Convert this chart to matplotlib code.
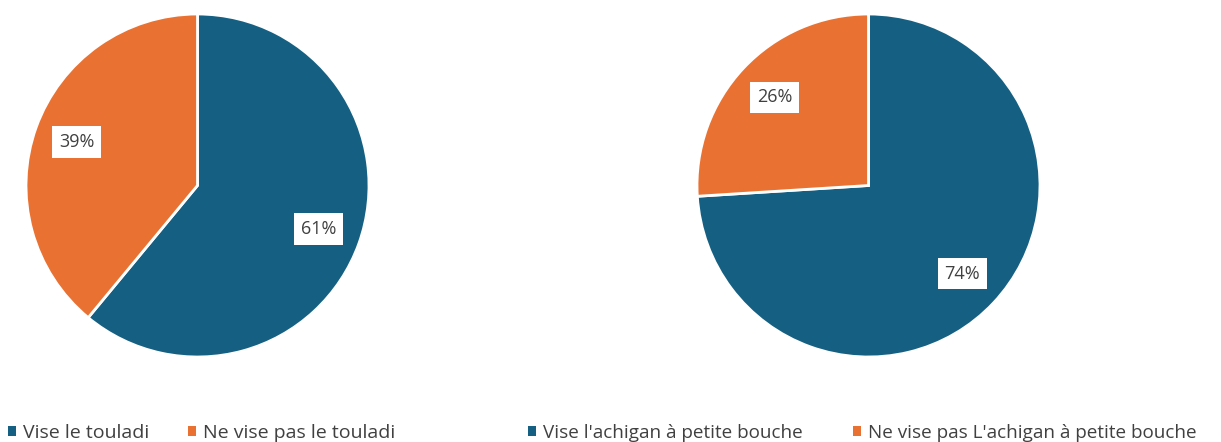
import matplotlib
matplotlib.use("Agg")
import matplotlib.pyplot as plt
from matplotlib.patches import Patch

plt.rcParams['font.family'] = ['Open Sans', 'DejaVu Sans']

# Données
labels_gauche = ["Vise le touladi", "Ne vise pas le touladi"]
valeurs_gauche = [61, 39]
labels_droite = ["Vise l'achigan à petite bouche", "Ne vise pas L'achigan à petite bouche"]
valeurs_droite = [74, 26]
couleurs = ["#156082", "#E97132"]

fig = plt.figure(figsize=(12.21, 4.42), dpi=100)

def camembert(ax, valeurs):
    ax.pie(valeurs, colors=couleurs, startangle=90, counterclock=False,
           autopct='%1.0f%%', pctdistance=0.75,
           wedgeprops=dict(edgecolor='white', linewidth=2),
           textprops=dict(color='#404040', fontsize=13,
                          bbox=dict(facecolor='white', edgecolor='none', pad=5)))
    ax.set_xlim(-1.0, 1.0)
    ax.set_ylim(-1.0, 1.0)
    ax.set_aspect('equal')

ax1 = fig.add_axes([26 / 1221, 85 / 442, 343 / 1221, 343 / 442])
camembert(ax1, valeurs_gauche)
ax2 = fig.add_axes([697 / 1221, 85 / 442, 343 / 1221, 343 / 442])
camembert(ax2, valeurs_droite)

def legende(x, y, labels, spacing, taille):
    handles = [Patch(facecolor=c, edgecolor='none') for c in couleurs]
    fig.legend(handles, labels, loc='center left', bbox_to_anchor=(x, y),
               ncol=2, frameon=False, fontsize=taille, handlelength=0.42,
               handleheight=0.42, handletextpad=0.35, columnspacing=spacing,
               labelcolor='#404040', borderaxespad=0, borderpad=0)

legende(8 / 1221, 1 - 433 / 442, labels_gauche, 2.0, 14)
legende(528 / 1221, 1 - 433 / 442, labels_droite, 2.7, 13.6)

fig.savefig("out.png", dpi=100)
